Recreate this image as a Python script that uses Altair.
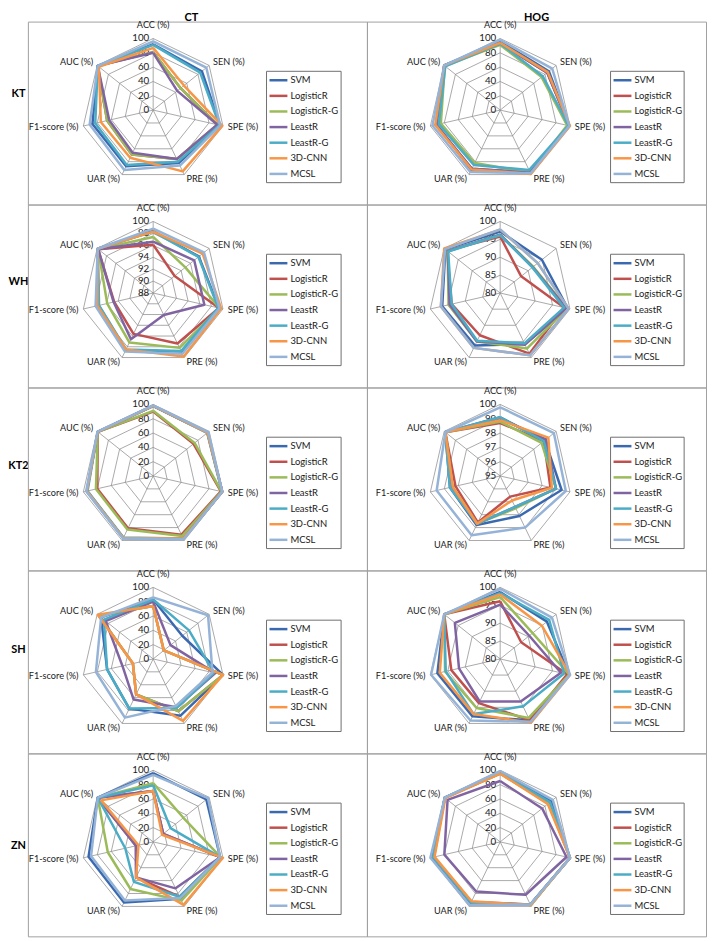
import altair as alt
import pandas as pd

# ---------------- data ----------------
METRICS = ["ACC (%)", "SEN (%)", "SPE (%)", "PRE (%)", "UAR (%)", "F1-score (%)", "AUC (%)"]
SERIES = ["SVM", "LogisticR", "LogisticR-G", "LeastR", "LeastR-G", "3D-CNN", "MCSL"]
COLORS = ["#3B69B0", "#C0504D", "#9BBB59", "#8064A2", "#4BACC6", "#F79646", "#95B3D7"]
DATASETS = ["KT", "WH", "KT2", "SH", "ZN"]
FEATURES = ["CT", "HOG"]

TICKS_0_100 = [0, 20, 40, 60, 80, 100]
TICKS_88_100 = [88, 90, 92, 94, 96, 98, 100]
TICKS_80_100 = [80, 85, 90, 95, 100]
TICKS_95_100 = [95, 96, 97, 98, 99, 100]

# each row: one series (SVM ... MCSL), values in METRICS order
CT_KT = [
    [92, 87, 96, 82, 87, 87, 99],
    [81, 49, 92, 76, 69, 66, 99],
    [81, 49, 92, 76, 69, 66, 99],
    [80, 43, 92, 76, 66, 63, 99],
    [91, 84, 95, 80, 85, 83, 99],
    [87, 55, 99, 95, 74, 75, 97],
    [96, 95, 96, 86, 93, 91, 99],
]
HOG_KT = [
    [96, 87, 99, 96, 93, 91, 100],
    [93, 84, 99, 97, 91, 92, 100],
    [91, 74, 96, 97, 82, 85, 99],
    [93, 84, 99, 97, 91, 92, 100],
    [93, 76, 98, 93, 85, 88, 98],
    [94, 85, 100, 99, 92, 93, 100],
    [98, 93, 99, 98, 96, 97, 100],
]
CT_WH = [
    [98.4, 97.8, 99.3, 98.9, 98.6, 97.4, 99.9],
    [96.1, 92.6, 99.3, 97.4, 95.6, 94.7, 99.8],
    [97.4, 94.9, 99.4, 98.2, 97.2, 95.9, 99.8],
    [96.6, 96.8, 96.8, 92.1, 96.6, 94.8, 99.8],
    [98.3, 97.7, 99.2, 98.8, 98.5, 97.3, 99.9],
    [98.3, 98.6, 99.7, 99.8, 98.5, 97.6, 99.9],
    [98.8, 98.9, 99.4, 99.3, 98.9, 97.9, 99.9],
]
HOG_WH = [
    [97.2, 94.9, 99.4, 95.8, 96.3, 96.6, 99.6],
    [95.8, 87.5, 98.3, 98.8, 93.1, 93.9, 99.0],
    [96.3, 91.8, 99.2, 97.2, 95.0, 94.8, 98.8],
    [96.3, 91.6, 99.0, 96.0, 95.0, 94.5, 98.7],
    [96.2, 91.5, 98.3, 95.6, 94.8, 93.9, 98.6],
    [97.7, 93.4, 99.6, 99.3, 97.0, 97.0, 100],
    [97.8, 93.4, 99.6, 99.3, 97.0, 97.0, 99.7],
]
CT_KT2 = [
    [98, 97, 99, 97, 96, 95, 99],
    [90, 72, 97, 91, 81, 80, 99],
    [91, 74, 98, 93, 83, 82, 99],
    [98, 97, 99, 97, 96, 95, 99],
    [97.5, 96.5, 98.5, 97, 95.5, 94, 99],
    [98, 97, 99, 97, 96, 95, 99],
    [98.6, 98.5, 99, 98, 97, 96, 99.5],
]
HOG_KT2 = [
    [99.1, 99.0, 99.4, 98.1, 98.8, 98.6, 99.9],
    [98.7, 98.9, 98.6, 96.6, 98.6, 98.2, 99.9],
    [98.8, 98.7, 99.0, 97.5, 98.7, 98.4, 99.9],
    [99.0, 99.1, 99.0, 97.4, 98.7, 98.5, 99.9],
    [99.1, 98.9, 99.0, 97.4, 98.7, 98.6, 99.9],
    [98.9, 99.3, 98.7, 96.9, 98.7, 98.4, 99.9],
    [99.8, 99.8, 99.7, 99.0, 99.6, 99.55, 99.9],
]
CT_SH = [
    [83, 52, 100, 88, 77, 66, 93],
    [74, 19, 100, 81, 55, 29, 97],
    [74, 19, 100, 81, 55, 29, 97],
    [80, 31, 89, 75, 63, 44, 85],
    [83, 64, 87, 76, 77, 66, 88],
    [74, 19, 100, 96, 55, 29, 99],
    [86, 98, 85, 73, 91, 82, 93],
]
HOG_SH = [
    [98.7, 96.7, 99.8, 99.0, 97.8, 98.0, 100],
    [96.1, 87.5, 99.2, 99.0, 93.7, 94.0, 100],
    [97.3, 91.6, 99.8, 98.3, 95.2, 95.8, 100],
    [95.2, 90.4, 97.4, 93.2, 93.2, 91.8, 96.2],
    [98.4, 97.5, 98.3, 94.7, 97.1, 95.6, 100],
    [98.0, 94.9, 100, 99.8, 97.1, 97.3, 100],
    [99.6, 98.5, 100, 99.5, 99.1, 99.8, 100],
]
CT_ZN = [
    [96, 95, 96, 88, 94, 92.6, 99],
    [71, 18, 96, 85, 55, 24.7, 99],
    [82, 54, 97, 91, 73, 65, 99],
    [71, 18, 96, 72, 55, 24.7, 99],
    [79, 31, 96, 85, 62, 40, 99],
    [71, 16, 100, 97.6, 55, 21, 93],
    [93.5, 98, 96, 87, 91, 89, 99],
]
HOG_ZN = [
    [96.7, 91.5, 100, 97, 95, 97, 99],
    [95.5, 87, 100, 97, 93, 95, 99],
    [95.5, 86, 100, 98, 93, 95, 99],
    [85, 75, 95, 82, 77, 80, 94],
    [96, 89, 100, 97, 94, 96, 99],
    [95.3, 85, 100, 98, 92, 94, 98],
    [99, 94, 100, 97, 98, 100, 99],
]

PANELS = {
    ("CT", "KT"): (CT_KT, TICKS_0_100),
    ("HOG", "KT"): (HOG_KT, TICKS_0_100),
    ("CT", "WH"): (CT_WH, TICKS_88_100),
    ("HOG", "WH"): (HOG_WH, TICKS_80_100),
    ("CT", "KT2"): (CT_KT2, TICKS_0_100),
    ("HOG", "KT2"): (HOG_KT2, TICKS_95_100),
    ("CT", "SH"): (CT_SH, TICKS_0_100),
    ("HOG", "SH"): (HOG_SH, TICKS_80_100),
    ("CT", "ZN"): (CT_ZN, TICKS_0_100),
    ("HOG", "ZN"): (HOG_ZN, TICKS_0_100),
}

# ---------------- layout / style ----------------
FONT = "Lato"
FS = 9.2
TXT = "#1a1a1a"
GRID = "#8c8c8c"
BORDER = "#a0a0a0"
R = 72.0
W = 341
H = 184
LABEL_W = 18
HEADER_H = 10
CX = {"CT": 126, "HOG": 134}
CY = 89
LEG_BOX = {"CT": (114, 189), "HOG": (111, 185)}
LEG_TOP, LEG_BOTTOM = 39, -73
LEG_Y0, LEG_STEP = 30, 15.7
ROW_LABEL_Y = {"KT": 73, "WH": 78, "KT2": 79, "SH": 80, "ZN": 93}

cscale = alt.Scale(domain=SERIES, range=COLORS)


def polar(expr_r):
    return {
        "x": f"({expr_r}) * sin(datum.k * 2 * PI / 7)",
        "y": f"({expr_r}) * cos(datum.k * 2 * PI / 7)",
    }


def panel(feature, dataset):
    vals, ticks = PANELS[(feature, dataset)]
    lo, hi = ticks[0], ticks[-1]
    span = hi - lo
    cxo = CX[feature]
    xs = alt.Scale(domain=[-cxo, W - cxo], nice=False, zero=False)
    ys = alt.Scale(domain=[CY - H, CY], nice=False, zero=False)
    X = alt.X("x:Q", scale=xs, axis=None)
    Y = alt.Y("y:Q", scale=ys, axis=None)
    rexpr = f"(datum.value - {lo}) / {span} * {R}"

    ring_rows = [{"level": t, "k": k, "value": t} for t in ticks[1:] for k in range(8)]
    rings = (
        alt.Chart(pd.DataFrame(ring_rows))
        .transform_calculate(**polar(rexpr))
        .mark_line(color=GRID, strokeWidth=0.75)
        .encode(x=X, y=Y, detail="level:N", order="k:Q")
    )
    spoke_rows = [{"k": k, "value": hi} for k in range(7)]
    spokes = (
        alt.Chart(pd.DataFrame(spoke_rows))
        .transform_calculate(**polar(rexpr))
        .mark_rule(color=GRID, strokeWidth=0.75)
        .encode(x=X, y=Y, x2=alt.datum(0), y2=alt.datum(0))
    )
    tick_rows = [{"k": 0, "value": t, "label": str(t)} for t in ticks]
    tick_lbl = (
        alt.Chart(pd.DataFrame(tick_rows))
        .transform_calculate(**polar(rexpr))
        .mark_text(align="right", baseline="middle", dx=-4, font=FONT, fontSize=FS + 0.6, color=TXT)
        .encode(x=X, y=Y, text="label:N")
    )
    mdf = pd.DataFrame([{"k": k, "metric": m} for k, m in enumerate(METRICS)])
    m_top = (
        alt.Chart(mdf)
        .transform_filter("datum.k == 0")
        .transform_calculate(**polar(f"1.12 * {R}"))
        .mark_text(align="center", baseline="bottom", font=FONT, fontSize=FS, color=TXT)
        .encode(x=X, y=Y, text="metric:N")
    )
    mbase = alt.Chart(mdf).transform_calculate(**polar(f"1.07 * {R}"))
    m_right = mbase.transform_filter("datum.k >= 1 && datum.k <= 3").mark_text(
        align="left", baseline="middle", font=FONT, fontSize=FS, color=TXT
    ).encode(x=X, y=Y, text="metric:N")
    m_left = mbase.transform_filter("datum.k >= 4").mark_text(
        align="right", baseline="middle", font=FONT, fontSize=FS, color=TXT
    ).encode(x=X, y=Y, text="metric:N")

    s_rows = []
    for si, s in enumerate(SERIES):
        for k in range(8):
            s_rows.append({"series": s, "k": k, "value": vals[si][k % 7]})
    sdf = pd.DataFrame(s_rows)
    lines = []
    for s in SERIES:
        lines.append(
            alt.Chart(sdf)
            .transform_filter(alt.datum.series == s)
            .transform_calculate(**polar(rexpr))
            .mark_line(strokeWidth=2.5, strokeJoin="round")
            .encode(x=X, y=Y, order="k:Q", color=alt.Color("series:N", scale=cscale, legend=None))
        )

    bx0, bx1 = LEG_BOX[feature]
    box = (
        alt.Chart(pd.DataFrame({"a": [0]}))
        .mark_rect(fill="white", stroke="#6f6f6f", strokeWidth=1)
        .encode(
            x=alt.datum(bx0, scale=xs, axis=None),
            x2=alt.datum(bx1),
            y=alt.datum(LEG_TOP, scale=ys, axis=None),
            y2=alt.datum(LEG_BOTTOM),
        )
    )
    ldf = pd.DataFrame({"series": SERIES, "i": list(range(len(SERIES)))})
    lbase = alt.Chart(ldf).transform_calculate(y=f"{LEG_Y0} - datum.i * {LEG_STEP}")
    leg_lines = lbase.mark_rule(strokeWidth=2.5).encode(
        x=alt.datum(bx0 + 3, scale=xs, axis=None),
        x2=alt.datum(bx0 + 21),
        y=Y,
        color=alt.Color("series:N", scale=cscale, legend=None),
    )
    leg_text = lbase.mark_text(
        align="left", baseline="middle", font=FONT, fontSize=FS + 0.3, color=TXT
    ).encode(x=alt.datum(bx0 + 24, scale=xs, axis=None), y=Y, text="series:N")

    layers = [rings, spokes, tick_lbl, m_top, m_right, m_left] + lines + [box, leg_lines, leg_text]
    return alt.layer(*layers).properties(
        width=W, height=H, view=alt.ViewBackground(stroke=BORDER, strokeWidth=1)
    )


def text_cell(label, width, height, xpos, ypos, size):
    return (
        alt.Chart(pd.DataFrame({"label": [label]}))
        .mark_text(font=FONT, fontSize=size, fontWeight="bold", color="#000000")
        .encode(text="label:N", x=alt.value(xpos), y=alt.value(ypos))
        .properties(width=width, height=height)
    )


cells = [
    text_cell("", LABEL_W, HEADER_H, 9, 5, 11),
    text_cell("CT", W, HEADER_H, W / 2 - 6, 6, 11),
    text_cell("HOG", W, HEADER_H, W / 2, 6, 11),
]
for d in DATASETS:
    cells.append(text_cell(d, LABEL_W, H, 8.5, ROW_LABEL_Y[d], 11))
    cells.append(panel("CT", d))
    cells.append(panel("HOG", d))

chart = (
    alt.concat(*cells, columns=3, spacing=0, bounds="flush", align="each")
    .properties(padding=0)
    .configure_view(stroke=None)
)

chart.save("out.html", embed_options={"renderer": "svg", "actions": False})
